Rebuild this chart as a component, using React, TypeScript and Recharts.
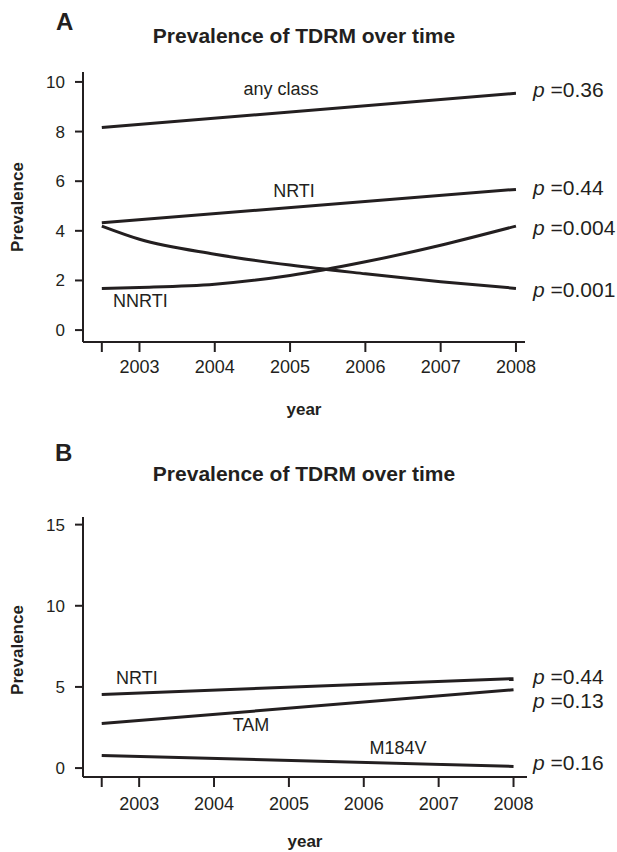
import React from "react";
import { LineChart, Line, XAxis, YAxis } from "recharts";

const FONT = '"Liberation Sans", Arial, Helvetica, sans-serif';
const INK = "#231f20";

// x positions (years) used by the series
const curveYears = [2002.5, 2003, 2004, 2005, 2006, 2007, 2008];
const endYears = [2002.5, 2008];
const yearTicks = [2002.5, 2003, 2004, 2005, 2006, 2007, 2008];

// panel A: prevalence by drug class
const anyClassA = [8.16, 9.54];
const nrtiA = [4.33, 5.67];
const nnrtiA = [1.68, 1.72, 1.85, 2.2, 2.75, 3.42, 4.19];
const piA = [4.19, 3.66, 3.06, 2.62, 2.27, 1.95, 1.68];
const pValuesA = ["0.36", "0.44", "0.004", "0.001"];
const yTicksA = [0, 2, 4, 6, 8, 10];

// panel B: NRTI mutations
const nrtiB = [4.54, 5.51];
const tamB = [2.74, 4.83];
const m184vB = [0.78, 0.1];
const pValuesB = ["0.44", "0.13", "0.16"];
const yTicksB = [0, 5, 10, 15];

const zip = (xs: number[], vs: number[]) => xs.map((year, i) => ({ year, v: vs[i] }));
const fmtYear = (v: number) => (Number.isInteger(v) ? String(v) : "");

const axisStyle = { stroke: INK, strokeWidth: 2 };
const tickStyle = { fill: INK, fontSize: 18, fontFamily: FONT };

function Series({ xs, vs, curve }: { xs: number[]; vs: number[]; curve?: boolean }) {
  return (
    <Line
      data={zip(xs, vs)}
      dataKey="v"
      type={curve ? "monotone" : "linear"}
      stroke={INK}
      strokeWidth={3}
      dot={false}
      activeDot={false}
      isAnimationActive={false}
    />
  );
}

function PLabel({ x, y, value }: { x: number; y: number; value: string }) {
  return (
    <text x={x} y={y} fontSize={21} fill={INK} fontFamily={FONT}>
      <tspan fontStyle="italic">p</tspan>
      <tspan> ={value}</tspan>
    </text>
  );
}

export default function App() {
  const txt = { fill: INK, fontFamily: FONT };
  return (
    <div style={{ position: "absolute", left: 0, top: 0, width: 617, height: 852, background: "#fff", overflow: "hidden" }}>
      <div style={{ position: "absolute", left: 0, top: 0 }}>
        <LineChart width={617} height={438} margin={{ top: 72, right: 92, left: 0, bottom: 0 }}>
          <XAxis
            type="number"
            dataKey="year"
            domain={[2002.25, 2008.12]}
            ticks={yearTicks}
            tickFormatter={fmtYear}
            height={96}
            axisLine={axisStyle}
            tickLine={axisStyle}
            tickSize={10}
            tickMargin={8}
            tick={tickStyle}
            allowDataOverflow
          />
          <YAxis
            type="number"
            domain={[-0.48, 10.4]}
            ticks={yTicksA}
            width={83}
            axisLine={axisStyle}
            tickLine={axisStyle}
            tickSize={8}
            tickMargin={10}
            tick={{ ...tickStyle, fontSize: 17 }}
            allowDataOverflow
          />
          <Series xs={endYears} vs={anyClassA} />
          <Series xs={endYears} vs={nrtiA} />
          <Series xs={curveYears} vs={nnrtiA} curve />
          <Series xs={curveYears} vs={piA} curve />
        </LineChart>
      </div>
      <div style={{ position: "absolute", left: 0, top: 438 }}>
        <LineChart width={617} height={414} margin={{ top: 79, right: 90, left: 0, bottom: 0 }}>
          <XAxis
            type="number"
            dataKey="year"
            domain={[2002.25, 2008.18]}
            ticks={yearTicks}
            tickFormatter={fmtYear}
            height={75}
            axisLine={axisStyle}
            tickLine={axisStyle}
            tickSize={10}
            tickMargin={10}
            tick={tickStyle}
            allowDataOverflow
          />
          <YAxis
            type="number"
            domain={[-0.55, 15.47]}
            ticks={yTicksB}
            width={83}
            axisLine={axisStyle}
            tickLine={axisStyle}
            tickSize={8}
            tickMargin={10}
            tick={{ ...tickStyle, fontSize: 17 }}
            allowDataOverflow
          />
          <Series xs={endYears} vs={nrtiB} />
          <Series xs={endYears} vs={tamB} />
          <Series xs={endYears} vs={m184vB} />
        </LineChart>
      </div>
      <svg width={617} height={852} style={{ position: "absolute", left: 0, top: 0, pointerEvents: "none" }}>
        {/* panel A */}
        <text x={56} y={30} fontSize={24} fontWeight="bold" {...txt}>A</text>
        <text x={304} y={43} fontSize={21} fontWeight="bold" textAnchor="middle" {...txt}>Prevalence of TDRM over time</text>
        <text x={23} y={207} fontSize={17} fontWeight="bold" textAnchor="middle" transform="rotate(-90 23 207)" {...txt}>Prevalence</text>
        <text x={304} y={415} fontSize={17} fontWeight="bold" textAnchor="middle" {...txt}>year</text>
        <text x={281} y={95} fontSize={18} textAnchor="middle" {...txt}>any class</text>
        <text x={294} y={197} fontSize={18} textAnchor="middle" {...txt}>NRTI</text>
        <text x={113} y={307} fontSize={18} {...txt}>NNRTI</text>
        <PLabel x={533} y={97} value={pValuesA[0]} />
        <PLabel x={533} y={195} value={pValuesA[1]} />
        <PLabel x={533} y={235} value={pValuesA[2]} />
        <PLabel x={533} y={297} value={pValuesA[3]} />
        {/* panel B */}
        <text x={55} y={461} fontSize={24} fontWeight="bold" {...txt}>B</text>
        <text x={304} y={481} fontSize={21} fontWeight="bold" textAnchor="middle" {...txt}>Prevalence of TDRM over time</text>
        <text x={23} y={650} fontSize={17} fontWeight="bold" textAnchor="middle" transform="rotate(-90 23 650)" {...txt}>Prevalence</text>
        <text x={305} y={847} fontSize={17} fontWeight="bold" textAnchor="middle" {...txt}>year</text>
        <text x={116} y={684} fontSize={18} {...txt}>NRTI</text>
        <text x={251} y={731} fontSize={18} textAnchor="middle" {...txt}>TAM</text>
        <text x={398} y={754} fontSize={18} textAnchor="middle" {...txt}>M184V</text>
        <PLabel x={533} y={684} value={pValuesB[0]} />
        <PLabel x={533} y={708} value={pValuesB[1]} />
        <PLabel x={533} y={770} value={pValuesB[2]} />
      </svg>
    </div>
  );
}
